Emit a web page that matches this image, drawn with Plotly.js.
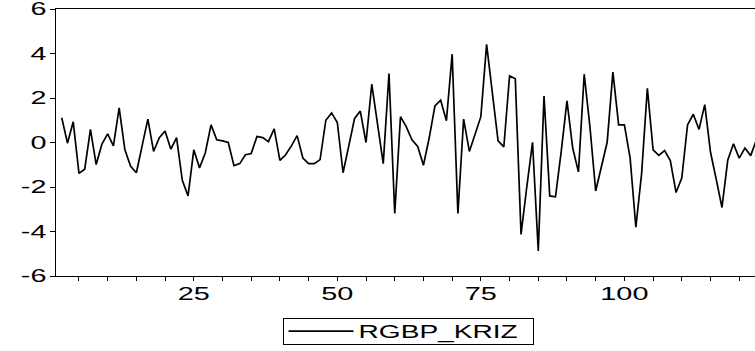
<!DOCTYPE html>
<html>
<head>
<meta charset="utf-8">
<script src="https://cdn.plot.ly/plotly-3.0.1.min.js"></script>
<style>
  html, body { margin: 0; padding: 0; background: #fff; }
  #chart { width: 755px; height: 351px; }
</style>
</head>
<body>
<div id="chart"></div>
<script>
// Series RGBP_KRIZ, observations 2..123
const firstObs = 2;
const rgbpKriz = [
   1.11, -0.03,  0.93, -1.39, -1.20,  0.59, -0.99, -0.07,  0.39, -0.15,
   1.56, -0.33, -1.07, -1.36, -0.15,  1.05, -0.40,  0.22,  0.52, -0.30,
   0.22, -1.70, -2.40, -0.33, -1.14, -0.47,  0.79,  0.12,  0.07,  0.00,
  -1.04, -0.95, -0.55, -0.50,  0.27,  0.22,  0.04,  0.61, -0.80, -0.55,
  -0.15,  0.31, -0.70, -0.95, -0.95, -0.77,  1.00,  1.33,  0.90, -1.36,
  -0.15,  1.08,  1.41,  0.00,  2.62,  0.80, -0.95,  3.10, -3.19,  1.16,
   0.71,  0.12, -0.18, -1.02,  0.20,  1.64,  1.90,  0.98,  3.97, -3.19,
   1.05, -0.40,  0.38,  1.16,  4.41,  2.10,  0.07, -0.20,  3.00,  2.86,
  -4.13, -2.00,  0.01, -4.87,  2.09, -2.40, -2.44, -0.40,  1.87, -0.25,
  -1.32,  3.07,  0.70, -2.18, -1.14,  0.01,  3.16,  0.79,  0.79, -0.70,
  -3.81, -1.40,  2.44, -0.33, -0.58, -0.36, -0.81, -2.25, -1.59,  0.79,
   1.27,  0.59,  1.70, -0.44, -1.66, -2.92, -0.80, -0.06, -0.70, -0.25,
  -0.59,  0.12
];
const obs = rgbpKriz.map((_, k) => firstObs + k);

const xTickVals = [25, 50, 75, 100];
const yTickVals = [-6, -4, -2, 0, 2, 4, 6];
const yTickText = ['-6', '-4', '-2', '0', '2', '4', '6'];

const FONT = { family: 'Arial, "Liberation Sans", sans-serif', size: 18, color: '#000' };
const TICK_STRETCH = 1.6;     // wide, EViews-like lettering
const LEGEND_STRETCH = 1.56;
const LEGEND_BOX_H = 26;

const trace = {
  x: obs,
  y: rgbpKriz,
  type: 'scatter',
  mode: 'lines',
  name: 'RGBP_KRIZ',
  line: { color: '#000', width: 1.7 }
};

const layout = {
  width: 755,
  height: 351,
  margin: { l: 56, r: 0, t: 9, b: 72 },
  paper_bgcolor: '#fff',
  plot_bgcolor: '#fff',
  font: FONT,
  showlegend: true,
  legend: {
    orientation: 'h',
    x: 0.5036, xanchor: 'center',
    y: -0.1351, yanchor: 'top',
    bordercolor: '#000',
    borderwidth: 1,
    bgcolor: '#fff',
    itemwidth: 65,
    entrywidth: 169,
    font: FONT
  },
  xaxis: {
    range: [1, 122.75],
    showline: true, linecolor: '#000', linewidth: 1, mirror: true,
    showgrid: false, zeroline: false,
    tickmode: 'array', tickvals: xTickVals,
    ticks: 'outside', ticklen: 4, tickcolor: '#000',
    ticklabelstandoff: -3,
    minor: { dtick: 5, tick0: 0, ticks: 'outside', ticklen: 4, tickcolor: '#000', showgrid: false },
    tickfont: FONT
  },
  yaxis: {
    range: [-6, 6],
    showline: true, linecolor: '#000', linewidth: 1,
    showgrid: false, zeroline: false,
    tickmode: 'array', tickvals: yTickVals, ticktext: yTickText,
    ticks: 'outside', ticklen: 5, tickcolor: '#000',
    ticklabeloverflow: 'allow',
    tickfont: FONT
  }
};

function stretchText(nodes, factor) {
  nodes.forEach(t => {
    const w = t.getComputedTextLength();
    t.setAttribute('textLength', (w * factor).toFixed(1));
    t.setAttribute('lengthAdjust', 'spacingAndGlyphs');
  });
}

function finish(gd) {
  stretchText(gd.querySelectorAll('.xtick text, .ytick text'), TICK_STRETCH);
  stretchText(gd.querySelectorAll('.legendtext'), LEGEND_STRETCH);
  // tighter legend frame around the single entry
  const bg = gd.querySelector('.legend rect.bg');
  if (bg) {
    const h = +bg.getAttribute('height');
    const y = +(bg.getAttribute('y') || 0);
    bg.setAttribute('y', (y + (h - LEGEND_BOX_H) / 2).toFixed(1));
    bg.setAttribute('height', LEGEND_BOX_H);
  }
}

Plotly.newPlot('chart', [trace], layout, { staticPlot: true, displayModeBar: false })
  .then(finish);
</script>
</body>
</html>
